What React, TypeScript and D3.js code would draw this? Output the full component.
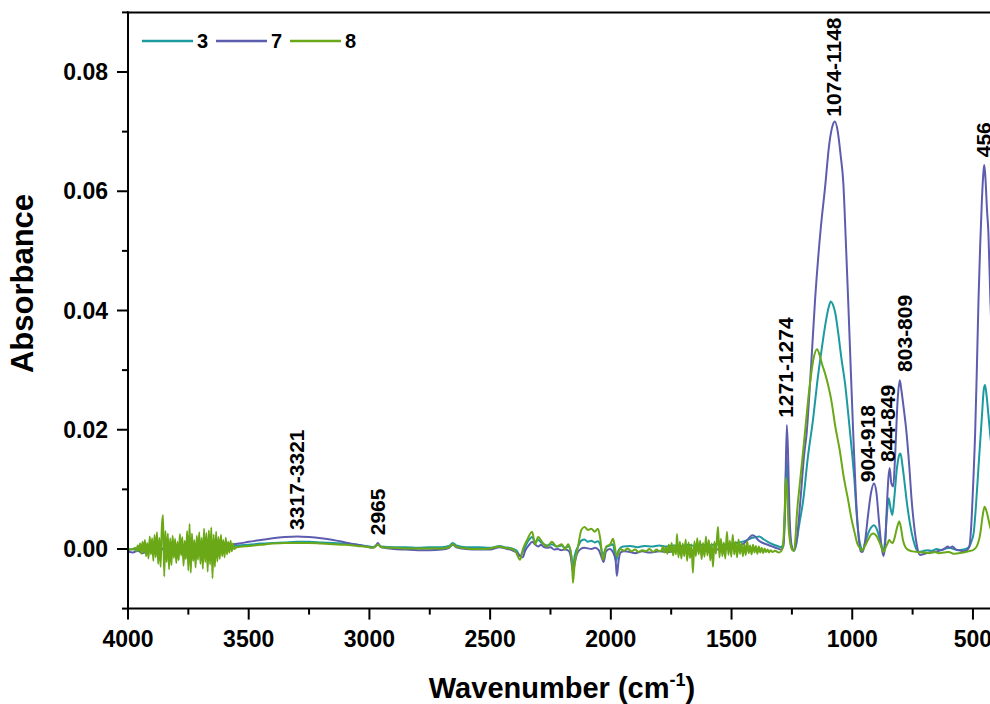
import React from "react";
import * as d3 from "d3";

// ---- data (wavenumber cm-1, absorbance) ----
const series3: [number, number][] = [
  [4000,-0.0002],[3980,0.0000],[3960,-0.0003],[3940,0.0001],[3920,-0.0002],[3900,0.0002],[3880,-0.0001],[3860,0.0001],[3840,-0.0002],[3820,0.0002],[3800,0.0000],[3780,0.0002],[3760,-0.0001],[3740,0.0001],[3720,0.0000],[3700,0.0002],[3680,0.0001],[3660,0.0002],[3640,0.0003],[3620,0.0003],[3600,0.0004],[3580,0.0004],[3560,0.0005],[3540,0.0006],[3500,0.0007],[3450,0.0009],[3400,0.0010],[3350,0.0011],[3300,0.0012],[3250,0.0012],[3200,0.0011],[3150,0.0010],[3100,0.0009],[3050,0.0007],[3000,0.0004],[2985,0.0003],[2965,0.0008],[2950,0.0004],[2900,0.0003],[2850,0.0003],[2800,0.0002],[2750,0.0003],[2700,0.0003],[2670,0.0005],[2655,0.0010],[2640,0.0006],[2600,0.0003],[2550,0.0003],[2500,0.0002],[2460,0.0005],[2440,0.0003],[2410,0.0001],[2390,-0.0003],[2376,-0.0012],[2364,-0.0004],[2347,0.0010],[2326,0.0020],[2314,0.0012],[2301,0.0015],[2285,0.0010],[2265,0.0006],[2244,0.0008],[2224,0.0004],[2203,0.0006],[2190,0.0002],[2175,0.0004],[2165,-0.0008],[2157,-0.0035],[2150,-0.0012],[2136,0.0004],[2122,0.0014],[2109,0.0016],[2095,0.0012],[2081,0.0014],[2067,0.0011],[2053,0.0013],[2043,0.0006],[2033,-0.0010],[2019,0.0003],[2002,0.0006],[1991,0.0008],[1978,-0.0020],[1968,-0.0002],[1950,0.0004],[1920,0.0005],[1890,0.0003],[1860,0.0005],[1830,0.0004],[1800,0.0006],[1770,0.0004],[1740,0.0006],[1710,0.0005],[1680,0.0007],[1650,0.0005],[1620,0.0007],[1590,0.0006],[1560,0.0008],[1530,0.0007],[1500,0.0009],[1470,0.0011],[1440,0.0014],[1420,0.0018],[1400,0.0020],[1385,0.0021],[1370,0.0017],[1350,0.0012],[1330,0.0008],[1310,0.0005],[1295,0.0003],[1285,0.0010],[1278,0.0070],[1273,0.0154],[1268,0.0120],[1262,0.0050],[1254,0.0008],[1245,-0.0002],[1240,-0.0003],[1232,0.0008],[1220,0.0040],[1203,0.0082],[1185,0.0150],[1161,0.0222],[1145,0.0280],[1127,0.0334],[1110,0.0380],[1098,0.0405],[1089,0.0415],[1080,0.0410],[1070,0.0395],[1058,0.0362],[1045,0.0320],[1030,0.0278],[1015,0.0220],[1002,0.0166],[990,0.0110],[981,0.0054],[972,0.0018],[965,0.0004],[958,-0.0004],[948,0.0008],[935,0.0025],[922,0.0036],[910,0.0040],[898,0.0033],[885,0.0015],[876,0.0001],[871,-0.0005],[864,0.0015],[856,0.0060],[849,0.0085],[842,0.0070],[834,0.0057],[826,0.0085],[815,0.0135],[805,0.0158],[800,0.0160],[792,0.0140],[783,0.0110],[775,0.0082],[762,0.0045],[747,0.0015],[735,0.0000],[727,-0.0005],[710,-0.0004],[690,-0.0002],[670,-0.0003],[650,0.0000],[630,-0.0002],[610,0.0001],[595,0.0002],[580,0.0000],[560,-0.0002],[540,-0.0001],[520,0.0002],[507,0.0012],[497,0.0027],[488,0.0070],[477,0.0138],[463,0.0222],[455,0.0268],[450,0.0275],[443,0.0255],[436,0.0225],[429,0.0194],[415,0.0145],[400,0.0110],
];

const series7: [number, number][] = [
  [4000,-0.0004],[3980,-0.0006],[3960,-0.0003],[3940,-0.0007],[3920,-0.0004],[3900,-0.0002],[3880,-0.0005],[3860,0.0000],[3840,-0.0004],[3820,-0.0001],[3800,-0.0003],[3780,0.0001],[3760,-0.0002],[3740,0.0000],[3720,-0.0001],[3700,0.0002],[3680,0.0000],[3660,0.0003],[3640,0.0002],[3620,0.0004],[3600,0.0005],[3580,0.0006],[3560,0.0008],[3540,0.0009],[3500,0.0012],[3450,0.0015],[3400,0.0018],[3350,0.0020],[3300,0.0021],[3250,0.0020],[3200,0.0018],[3150,0.0015],[3100,0.0011],[3050,0.0007],[3000,0.0003],[2990,0.0002],[2975,0.0004],[2965,0.0010],[2955,0.0004],[2940,0.0002],[2900,0.0000],[2850,-0.0001],[2800,-0.0002],[2750,-0.0002],[2700,-0.0001],[2670,0.0002],[2655,0.0007],[2640,0.0003],[2600,0.0000],[2550,-0.0001],[2500,-0.0001],[2460,0.0003],[2440,0.0001],[2410,-0.0002],[2390,-0.0006],[2375,-0.0012],[2365,-0.0014],[2355,-0.0003],[2340,0.0006],[2325,0.0012],[2315,0.0008],[2300,0.0004],[2290,0.0007],[2280,0.0004],[2265,0.0002],[2250,0.0003],[2235,-0.0001],[2220,0.0000],[2205,-0.0002],[2190,-0.0001],[2175,-0.0003],[2165,-0.0015],[2157,-0.0040],[2150,-0.0025],[2140,-0.0008],[2125,0.0000],[2110,0.0002],[2095,0.0001],[2080,0.0000],[2065,0.0002],[2050,-0.0002],[2040,-0.0012],[2030,-0.0022],[2020,-0.0004],[2005,0.0000],[1990,-0.0006],[1980,-0.0020],[1975,-0.0045],[1968,-0.0020],[1960,-0.0006],[1945,-0.0004],[1920,-0.0005],[1900,-0.0007],[1870,-0.0004],[1840,-0.0006],[1800,-0.0004],[1760,-0.0005],[1720,-0.0003],[1680,-0.0004],[1640,-0.0002],[1600,-0.0003],[1560,-0.0001],[1520,0.0000],[1480,0.0004],[1450,0.0009],[1430,0.0017],[1415,0.0023],[1405,0.0022],[1390,0.0015],[1370,0.0010],[1350,0.0007],[1330,0.0004],[1310,0.0001],[1295,-0.0001],[1285,0.0005],[1278,0.0080],[1271,0.0208],[1266,0.0160],[1260,0.0060],[1252,0.0008],[1244,-0.0002],[1236,0.0003],[1230,0.0015],[1215,0.0080],[1200,0.0155],[1189,0.0194],[1170,0.0310],[1154,0.0418],[1130,0.0540],[1113,0.0605],[1095,0.0680],[1080,0.0712],[1072,0.0717],[1060,0.0700],[1048,0.0660],[1037,0.0614],[1027,0.0520],[1017,0.0418],[1006,0.0300],[996,0.0194],[985,0.0090],[975,0.0027],[965,-0.0004],[958,-0.0005],[948,0.0010],[935,0.0055],[922,0.0095],[910,0.0110],[900,0.0095],[890,0.0050],[880,0.0008],[871,-0.0012],[864,0.0005],[858,0.0060],[850,0.0120],[845,0.0136],[838,0.0110],[830,0.0105],[822,0.0160],[812,0.0250],[803,0.0283],[796,0.0265],[788,0.0240],[775,0.0194],[764,0.0140],[754,0.0082],[744,0.0040],[734,0.0010],[720,-0.0010],[700,-0.0008],[680,-0.0006],[660,-0.0005],[640,-0.0003],[620,0.0000],[605,0.0004],[595,0.0002],[585,0.0004],[570,-0.0001],[555,-0.0002],[540,-0.0004],[525,-0.0002],[515,0.0004],[507,0.0040],[500,0.0100],[491,0.0194],[484,0.0300],[477,0.0418],[470,0.0510],[463,0.0585],[456,0.0635],[453,0.0644],[448,0.0620],[442,0.0570],[436,0.0530],[428,0.0420],[420,0.0330],[410,0.0250],[400,0.0200],
];

const series8: [number, number][] = [
  [4000,0.0000],[3985,-0.0001],[3975,0.0001],
  [3970,0.0002],[3965,-0.0004],[3960,0.0006],[3955,-0.0003],[3950,0.0009],[3945,-0.0008],[3940,0.0012],[3935,-0.0006],[3930,0.0015],[3925,-0.0012],[3920,0.0010],[3915,-0.0016],[3910,0.0021],[3905,-0.0009],[3900,0.0018],[3895,-0.0020],[3890,0.0024],[3885,-0.0014],[3880,0.0028],[3875,-0.0025],[3870,0.0019],[3865,-0.0030],[3860,0.0035],[3855,0.0057],[3850,-0.0046],[3845,0.0030],[3840,-0.0022],[3835,0.0026],[3830,-0.0034],[3825,0.0018],[3820,-0.0027],[3815,0.0022],[3810,-0.0015],[3805,0.0017],[3800,-0.0024],[3795,0.0012],[3790,-0.0019],[3785,0.0025],[3780,-0.0011],[3775,0.0020],[3770,-0.0028],[3765,0.0014],[3760,-0.0017],[3755,0.0030],[3750,-0.0036],[3745,0.0042],[3740,-0.0040],[3735,0.0026],[3730,-0.0020],[3725,0.0015],[3720,-0.0031],[3715,0.0022],[3710,-0.0018],[3705,0.0028],[3700,-0.0025],[3695,0.0019],[3690,-0.0033],[3685,0.0034],[3680,-0.0022],[3675,0.0027],[3670,-0.0038],[3665,0.0031],[3660,-0.0026],[3655,0.0036],[3650,-0.0049],[3645,0.0024],[3640,-0.0030],[3635,0.0029],[3630,-0.0021],[3625,0.0020],[3620,-0.0017],[3615,0.0024],[3610,-0.0012],[3605,0.0015],[3600,-0.0014],[3595,0.0019],[3590,-0.0009],[3585,0.0012],[3580,-0.0006],[3575,0.0014],[3570,-0.0004],[3565,0.0009],[3560,0.0000],
  [3550,0.0003],[3500,0.0005],[3450,0.0007],[3400,0.0009],[3350,0.0010],[3300,0.0010],[3250,0.0010],[3200,0.0009],[3150,0.0008],[3100,0.0007],[3050,0.0005],[3000,0.0003],[2985,0.0002],[2965,0.0007],[2950,0.0003],[2900,0.0002],[2850,0.0001],[2800,0.0001],[2750,0.0001],[2700,0.0001],[2670,0.0003],[2655,0.0008],[2640,0.0004],[2600,0.0001],[2550,0.0000],[2500,0.0001],[2460,0.0004],[2440,0.0002],
  [2410,0.0000],[2395,-0.0004],[2376,-0.0018],[2364,0.0000],[2347,0.0015],[2326,0.0029],[2314,0.0008],[2301,0.0020],[2285,0.0012],[2265,0.0004],[2244,0.0012],[2224,0.0004],[2203,0.0008],[2190,-0.0001],[2177,0.0008],[2161,-0.0018],[2157,-0.0057],[2150,-0.0025],[2136,0.0004],[2122,0.0032],[2109,0.0037],[2095,0.0032],[2081,0.0034],[2067,0.0029],[2053,0.0034],[2043,0.0015],[2033,-0.0018],[2019,0.0004],[2002,0.0008],[1991,0.0017],[1975,-0.0012],[1962,0.0000],[1945,-0.0003],[1930,0.0001],[1915,-0.0004],[1900,-0.0001],[1885,-0.0005],[1870,-0.0002],[1855,-0.0004],[1840,0.0000],[1825,-0.0005],[1810,-0.0001],[1800,-0.0004],
  [1790,-0.0002],[1784,0.0004],[1778,-0.0006],[1772,0.0003],[1766,-0.0008],[1760,0.0007],[1754,-0.0005],[1748,0.0010],[1742,-0.0011],[1736,0.0006],[1730,-0.0009],[1726,0.0025],[1720,-0.0014],[1714,0.0012],[1708,-0.0016],[1702,0.0009],[1696,-0.0012],[1690,0.0016],[1684,-0.0020],[1678,0.0011],[1672,-0.0015],[1666,0.0008],[1660,-0.0040],[1654,0.0013],[1648,-0.0012],[1642,0.0018],[1636,-0.0009],[1630,0.0014],[1624,-0.0017],[1618,0.0010],[1612,-0.0013],[1606,0.0021],[1600,-0.0011],[1594,0.0015],[1588,-0.0019],[1582,0.0009],[1577,-0.0030],[1571,0.0012],[1565,-0.0008],[1560,0.0020],[1556,0.0037],[1550,-0.0014],[1544,0.0017],[1538,-0.0012],[1532,0.0011],[1526,-0.0016],[1519,0.0029],[1513,-0.0010],[1507,0.0014],[1501,-0.0013],[1495,0.0024],[1489,-0.0009],[1483,0.0012],[1477,-0.0014],[1471,0.0016],[1465,-0.0008],[1459,0.0010],[1453,-0.0012],[1447,0.0008],[1441,-0.0010],[1435,0.0013],[1429,-0.0007],[1423,0.0006],[1417,-0.0009],[1411,0.0007],[1405,-0.0006],[1399,0.0005],[1393,-0.0008],[1387,0.0004],[1381,-0.0006],[1375,0.0002],[1369,-0.0007],[1363,0.0001],[1357,-0.0005],[1351,-0.0001],[1345,-0.0006],[1339,-0.0002],[1330,-0.0005],[1320,-0.0003],[1305,-0.0006],[1295,-0.0004],
  [1287,0.0005],[1280,0.0060],[1275,0.0119],[1270,0.0100],[1264,0.0040],[1256,0.0008],[1247,-0.0002],[1241,-0.0003],[1235,0.0020],[1230,0.0054],[1217,0.0110],[1203,0.0166],[1190,0.0220],[1175,0.0278],[1160,0.0320],[1146,0.0335],[1135,0.0325],[1125,0.0310],[1113,0.0295],[1100,0.0275],[1087,0.0250],[1070,0.0205],[1052,0.0166],[1035,0.0120],[1017,0.0082],[1003,0.0050],[990,0.0027],[978,0.0008],[969,0.0002],[960,-0.0003],[950,0.0003],[935,0.0015],[922,0.0024],[913,0.0026],[900,0.0022],[888,0.0012],[878,0.0002],[871,-0.0005],[862,0.0002],[853,0.0010],[847,0.0015],[840,0.0012],[833,0.0010],[825,0.0018],[815,0.0035],[805,0.0046],[798,0.0035],[790,0.0015],[781,0.0004],[770,-0.0001],[750,-0.0004],[730,-0.0005],[700,-0.0006],[680,-0.0007],[660,-0.0005],[640,-0.0007],[620,-0.0006],[600,-0.0005],[580,-0.0008],[560,-0.0007],[540,-0.0006],[520,-0.0004],[500,-0.0002],[485,0.0004],[470,0.0025],[460,0.0055],[452,0.0071],[445,0.0065],[436,0.0050],[429,0.0037],[415,0.0025],[400,0.0018],
];

const seriesNames = ["3", "7", "8"];
const seriesColors = ["#1c9aa0", "#5d5daf", "#6aa818"];
const allSeries = [series3, series7, series8];

const xMajorTicks = [4000, 3500, 3000, 2500, 2000, 1500, 1000, 500];
const xMinorTicks = [3750, 3250, 2750, 2250, 1750, 1250, 750];
const yMajorTicks = [0, 0.02, 0.04, 0.06, 0.08];
const yMinorTicks = [-0.01, 0.01, 0.03, 0.05, 0.07, 0.09];

// annotation labels: text, wavenumber of baseline, absorbance at text start
const annotationTexts = ["3317-3321", "2965", "1271-1274", "1074-1148", "904-918", "844-849", "803-809", "456"];
const annotationWn = [3271, 2935, 1246, 1047, 906, 823, 753, 425];
const annotationAbs = [0.0032, 0.0023, 0.022, 0.0725, 0.0112, 0.0146, 0.0297, 0.0657];

const FONT = "'Liberation Sans', Arial, Helvetica, sans-serif";

export default function App() {
  const W = 990, H = 704;
  const x = d3.scaleLinear().domain([4000, 400]).range([128, 997.1]);
  const y = d3.scaleLinear().domain([-0.01, 0.09]).range([608.6, 12.4]);
  const x0 = x(4000), x1 = x(400);
  const yB = y(-0.01), yT = y(0.09);

  const line = d3
    .line<[number, number]>()
    .x((d) => x(d[0]))
    .y((d) => y(d[1]))
    .curve(d3.curveMonotoneX);

  return (
    <svg
      width={W}
      height={H}
      style={{ position: "absolute", left: 0, top: 0, background: "#fff" }}
      fontFamily={FONT}
    >
      <defs>
        <clipPath id="plotClip">
          <rect x={x0} y={yT} width={x1 - x0} height={yB - yT} />
        </clipPath>
      </defs>

      {/* series */}
      <g clipPath="url(#plotClip)" fill="none">
        {allSeries.map((s, i) => (
          <path key={i} d={line(s) || ""} stroke={seriesColors[i]} strokeWidth={2} strokeLinejoin="round" />
        ))}
      </g>

      {/* axes */}
      <g stroke="#000" strokeWidth={2} fill="none">
        <line x1={x0} x2={x0} y1={yT - 1} y2={yB + 1} />
        <line x1={x0 - 1} x2={W} y1={yB} y2={yB} />
        <line x1={x0 - 1} x2={W} y1={yT} y2={yT} />
        {yMajorTicks.map((t) => (
          <line key={"ym" + t} x1={x0 - 11} x2={x0} y1={y(t)} y2={y(t)} />
        ))}
        {yMinorTicks.map((t) => (
          <line key={"yn" + t} x1={x0 - 6} x2={x0} y1={y(t)} y2={y(t)} />
        ))}
        {xMajorTicks.map((t) => (
          <line key={"xm" + t} x1={x(t)} x2={x(t)} y1={yB} y2={yB + 11} />
        ))}
        {xMinorTicks.map((t) => (
          <line key={"xn" + t} x1={x(t)} x2={x(t)} y1={yB} y2={yB + 6} />
        ))}
      </g>

      {/* tick labels */}
      <g fontWeight="bold" fontSize={23} fill="#000">
        {yMajorTicks.map((t) => (
          <text key={"yl" + t} x={x0 - 20} y={y(t) + 8} textAnchor="end">
            {d3.format(".2f")(t)}
          </text>
        ))}
        {xMajorTicks.map((t) => (
          <text key={"xl" + t} x={x(t)} y={647} textAnchor="middle">
            {t}
          </text>
        ))}
      </g>

      {/* axis titles */}
      <text
        transform={`translate(33, ${(yT + yB) / 2 - 27}) rotate(-90)`}
        textAnchor="middle"
        fontWeight="bold"
        fontSize={31}
      >
        Absorbance
      </text>
      <text x={562} y={698} textAnchor="middle" fontWeight="bold" fontSize={29}>
        Wavenumber (cm
        <tspan dy={-12} fontSize={18}>-1</tspan>
        <tspan dy={12}>)</tspan>
      </text>

      {/* annotations */}
      <g fontWeight="bold" fontSize={21} fill="#000">
        {annotationTexts.map((t, i) => (
          <text key={t} transform={`translate(${x(annotationWn[i])}, ${y(annotationAbs[i])}) rotate(-90)`}>
            {t}
          </text>
        ))}
      </g>

      {/* legend */}
      <g fontWeight="bold" fontSize={20}>
        {seriesNames.map((n, i) => {
          const lx = 142 + i * 74;
          return (
            <g key={n}>
              <line x1={lx} x2={lx + 51} y1={41} y2={41} stroke={seriesColors[i]} strokeWidth={2.5} />
              <text x={lx + 55} y={48} fill="#000">{n}</text>
            </g>
          );
        })}
      </g>
    </svg>
  );
}
